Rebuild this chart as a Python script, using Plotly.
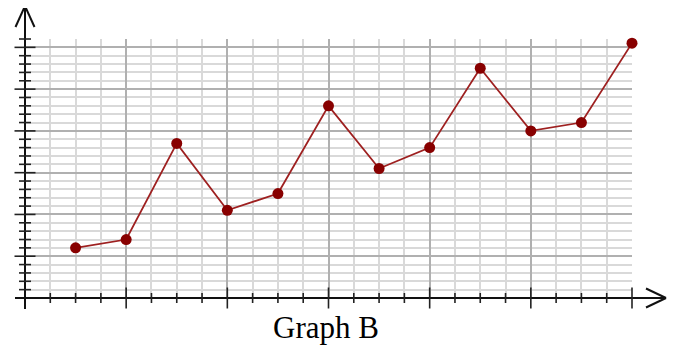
import plotly.graph_objects as go

# ---- data ----
x_values = list(range(1, 13))
y_values = [6, 7, 18.5, 10.5, 12.5, 23, 15.5, 18, 27.5, 20, 21, 30.5]
title_text = "Graph B"

# ---- axis scales ----
X_MAX, Y_MAX = 12, 31
X_MAJOR, X_MINOR = 2, 0.5
Y_MAJOR, Y_MINOR = 5, 1

# page body has an 8px margin, so the figure is sized to fit inside it
W, H = 667, 338
ML, MR, MT, MB = 17, 43, 31, 48
PW = W - ML - MR
PH = H - MT - MB


def dx(p):  # pixel offset -> x-domain fraction
    return p / PW


def dy(p):  # pixel offset -> y-domain fraction
    return p / PH


AX = dict(color="#111111", width=2)
TK = dict(color="#222222", width=1.6)

shapes = []
# axis lines
shapes.append(dict(type="line", xref="x domain", yref="y domain",
                   x0=dx(-10), x1=1 + dx(34), y0=0, y1=0, line=AX))
shapes.append(dict(type="line", xref="x domain", yref="y domain",
                   x0=0, x1=0, y0=dy(-11), y1=1 + dy(33), line=AX))
# arrow heads
tipx = 1 + dx(34)
shapes.append(dict(type="line", xref="x domain", yref="y domain",
                   x0=tipx, y0=0, x1=tipx - dx(20), y1=dy(9.5), line=AX))
shapes.append(dict(type="line", xref="x domain", yref="y domain",
                   x0=tipx, y0=0, x1=tipx - dx(20), y1=dy(-9.5), line=AX))
tipy = 1 + dy(33)
shapes.append(dict(type="line", xref="x domain", yref="y domain",
                   x0=0, y0=tipy, x1=dx(-9.5), y1=tipy - dy(21), line=AX))
shapes.append(dict(type="line", xref="x domain", yref="y domain",
                   x0=0, y0=tipy, x1=dx(9.5), y1=tipy - dy(21), line=AX))

# x ticks
n = int(round(X_MAX / X_MINOR))
for i in range(1, n + 1):
    v = i * X_MINOR
    major = abs(v / X_MAJOR - round(v / X_MAJOR)) < 1e-9
    h = 10.5 if major else 5
    shapes.append(dict(type="line", xref="x domain", yref="y domain",
                       x0=v / X_MAX, x1=v / X_MAX, y0=dy(-h), y1=dy(h), line=TK))
# y ticks
n = int(round(Y_MAX / Y_MINOR))
for i in range(1, n + 1):
    v = i * Y_MINOR
    major = abs(v / Y_MAJOR - round(v / Y_MAJOR)) < 1e-9
    w = 10.5 if major else 6
    shapes.append(dict(type="line", xref="x domain", yref="y domain",
                       x0=dx(-w), x1=dx(w), y0=v / Y_MAX, y1=v / Y_MAX, line=TK))

fig = go.Figure()
fig.add_trace(go.Scatter(
    x=x_values, y=y_values, mode="lines+markers",
    line=dict(color="#9e2020", width=1.8),
    marker=dict(size=11, color="#880000"),
    cliponaxis=False, showlegend=False, hoverinfo="skip",
))

grid_major = "#b0b0b0"
grid_minor = "#d9d9d9"
fig.update_layout(
    width=W, height=H,
    margin=dict(l=ML, r=MR, t=MT, b=MB, pad=0),
    paper_bgcolor="white", plot_bgcolor="white",
    shapes=shapes,
    xaxis=dict(range=[0, X_MAX], tick0=0, dtick=X_MAJOR, showgrid=True,
               gridcolor=grid_major, gridwidth=2, zeroline=False,
               showline=False, ticks="", showticklabels=False,
               minor=dict(tick0=0, dtick=X_MINOR, showgrid=True,
                          gridcolor=grid_minor, gridwidth=2)),
    yaxis=dict(range=[0, Y_MAX], tick0=0, dtick=Y_MAJOR, showgrid=True,
               gridcolor=grid_major, gridwidth=2, zeroline=False,
               showline=False, ticks="", showticklabels=False,
               minor=dict(tick0=0, dtick=Y_MINOR, showgrid=True,
                          gridcolor=grid_minor, gridwidth=2)),
    annotations=[dict(text=title_text, xref="paper", yref="paper",
                      x=0.5, xshift=-3, y=dy(-29), yanchor="middle",
                      showarrow=False,
                      font=dict(family="Liberation Serif", size=31, color="black"))],
)

fig.write_html("out.html")
